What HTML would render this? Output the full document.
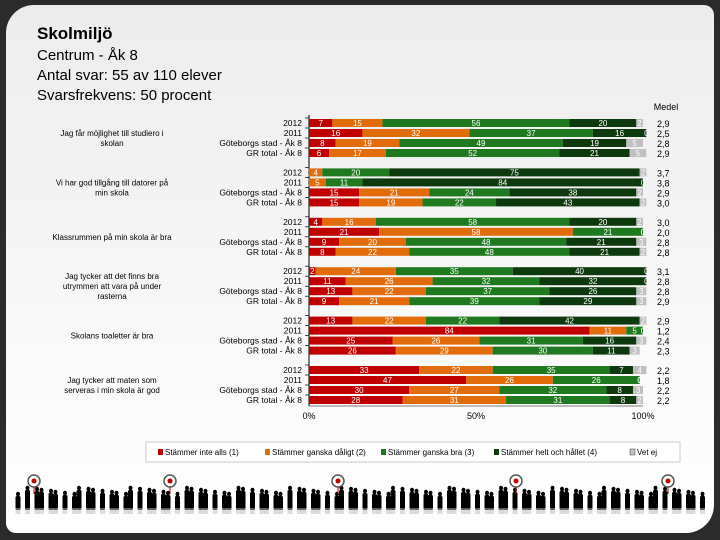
<!DOCTYPE html>
<html><head><meta charset="utf-8">
<style>
body{margin:0;width:720px;height:540px;background:#2b2b2b;overflow:hidden;font-family:"Liberation Sans",sans-serif;}
#slide{position:absolute;left:6px;top:5px;width:708px;height:528px;border-radius:28px 10px 28px 10px;background:linear-gradient(#ececec,#f8f8f8 60%,#fff);}
.t{position:absolute;white-space:nowrap;color:#000;}
</style></head><body>
<div id="slide"></div>
<div class="t" style="left:37px;top:24px;font-size:17px;font-weight:bold">Skolmiljö</div>
<div class="t" style="left:37px;top:47px;font-size:15px">Centrum - Åk 8</div>
<div class="t" style="left:37px;top:67px;font-size:15px">Antal svar: 55 av 110 elever</div>
<div class="t" style="left:37px;top:87px;font-size:15px">Svarsfrekvens: 50 procent</div>
<svg id="chart" width="720" height="540" style="position:absolute;left:0;top:0"></svg>
<script>
const questions=["Jag får möjlighet till studiero i|skolan","Vi har god tillgång till datorer på|min skola","Klassrummen på min skola är bra","Jag tycker att det finns bra|utrymmen att vara på under|rasterna","Skolans toaletter är bra","Jag tycker att maten som|serveras i min skola är god"];
const rowLabels=["2012","2011","Göteborgs stad - Åk 8","GR total - Åk 8"];
const values=[
[[7,15,56,20,2],[16,32,37,16,0],[8,19,49,19,5],[6,17,52,21,5]],
[[0,4,20,75,2],[0,5,11,84,0],[15,21,24,38,2],[15,19,22,43,2]],
[[4,16,58,20,2],[21,58,21,0,0],[9,20,48,21,3],[8,22,48,21,2]],
[[2,24,35,40,0],[11,26,32,32,0],[13,22,37,26,3],[9,21,39,29,3]],
[[13,22,22,42,2],[84,11,5,0,0],[25,26,31,16,3],[26,29,30,11,3]],
[[33,22,35,7,4],[47,26,26,0,0],[30,27,32,8,3],[28,31,31,8,2]]];
const medel=[["2,9","2,5","2,8","2,9"],["3,7","3,8","2,9","3,0"],["3,0","2,0","2,8","2,8"],["3,1","2,8","2,8","2,9"],["2,9","1,2","2,4","2,3"],["2,2","1,8","2,2","2,2"]];
const legendLabels=["Stämmer inte alls (1)","Stämmer ganska dåligt (2)","Stämmer ganska bra (3)","Stämmer helt och hållet (4)","Vet ej"];
const colors=["#c00000","#e36c0a","#1f7a1f","#0c3a0c","#c0c0c0"];
const NS="http://www.w3.org/2000/svg",svg=document.getElementById('chart');
function el(t,a,p){const e=document.createElementNS(NS,t);for(const k in a)e.setAttribute(k,a[k]);(p||svg).appendChild(e);return e;}
const x0=309,x1=643;
function xs(v){return x0+(x1-x0)*v/100;}
function ys(g,r){return 123+g*49.4+r*10;}
let ax=el('line',{x1:x0,x2:x0,y1:115,y2:406,stroke:'#000','stroke-width':1});


let bx=el('line',{x1:x0,x2:x1,y1:406,y2:406,stroke:'#000','stroke-width':0.5});


[0,50,100].forEach(p=>{const t=el('text',{x:xs(p),y:419,'font-size':9,'text-anchor':'middle'});t.textContent=p+'%';

});
const mh=el('text',{x:666,y:110,'font-size':9,'text-anchor':'middle'});mh.textContent='Medel';


values.forEach((grp,g)=>{
  const lines=questions[g].split('|');const cy=ys(g,1.5);
  lines.forEach((l,i)=>{const t=el('text',{x:112,y:cy+3+(i-(lines.length-1)/2)*10,'font-size':8,'text-anchor':'middle'});t.textContent=l;
  
  });
  grp.forEach((row,r)=>{
    const y=ys(g,r);
    const tl=el('text',{x:302,y:y+3,'font-size':8.5,'text-anchor':'end'});tl.textContent=rowLabels[r];
    
    
    el('line',{x1:x0-4,x2:x0,y1:y-5,y2:y-5,stroke:'#000','stroke-width':0.7});
    let acc=0;
    row.forEach((v,k)=>{
      const rc=el('rect',{x:xs(acc),y:y-4,width:Math.max(0,xs(acc+v)-xs(acc)),height:8,fill:colors[k]});
      
      
      const lt=el('text',{x:xs(acc+v/2),y:y+3,'font-size':8,'text-anchor':'middle',fill:'#fff'});lt.textContent=v;
      
      
      acc+=v;});
    const mt=el('text',{x:657,y:y+4,'font-size':9});mt.textContent=medel[g][r];
    
    
  });
});
const lb=el('rect',{x:146,y:442,width:534,height:20,fill:'#fff',stroke:'#ccc'});


const lx=[158,265,381,494,630];
legendLabels.forEach((s,i)=>{
  const r=el('rect',{x:lx[i],y:449,width:5,height:6,fill:colors[i],stroke:i==4?'#444':'none','stroke-width':0.5});
  
  
  const t=el('text',{x:lx[i]+7,y:455,'font-size':8});t.textContent=s;
  
  
});
const dec=el('g',{});


for(let i=0;i<92;i++){const x=18+i*7.5+((i*37)%5);const h=16+((i*13)%7);
  el('ellipse',{cx:x,cy:510-h,rx:2,ry:2.3,fill:'#000'},dec);
  el('rect',{x:x-2.5,y:512-h,width:5,height:h-2,rx:1.5,fill:'#000'},dec);
  el('rect',{x:x-2.5,y:508,width:5,height:6,fill:'#bbb',opacity:0.5},dec);}
[34,170,338,516,668].forEach(x=>{
  el('circle',{cx:x,cy:481,r:6,fill:'#fff',stroke:'#555','stroke-width':1.5},dec);
  el('circle',{cx:x,cy:481,r:2.5,fill:'#c00000'},dec);
  el('line',{x1:x,x2:x,y1:487,y2:494,stroke:'#c00000'},dec);});
</script>
</body></html>
